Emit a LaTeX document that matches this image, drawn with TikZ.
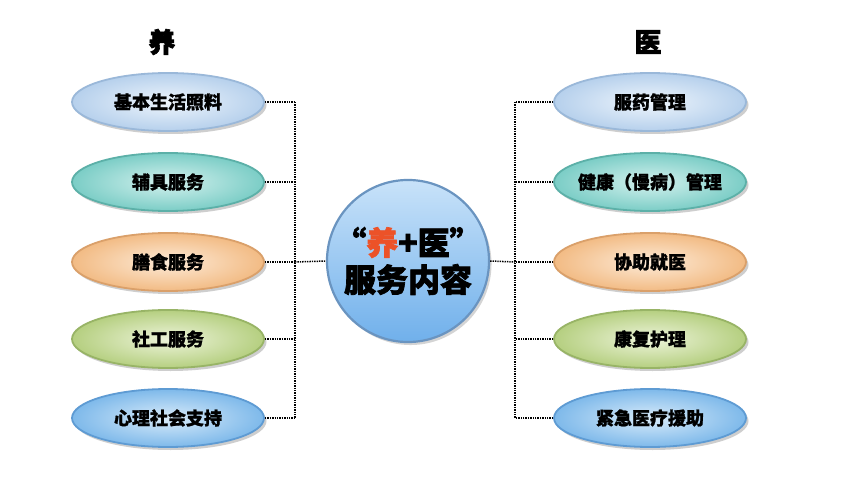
\documentclass[tikz,border=0pt]{standalone}
\usepackage{fontspec}
\newfontfamily\cjk{Noto Sans CJK SC}[BoldFeatures={FakeBold=1.2}]
\newfontfamily\cjkh{Noto Sans CJK SC}[BoldFeatures={FakeBold=2.2}]
\usetikzlibrary{shapes.geometric,shadows}
\definecolor{ovA}{HTML}{B6D0EC}\definecolor{ovAi}{HTML}{EEF5FC}\definecolor{ovAd}{HTML}{9AB8D9}
\definecolor{ovB}{HTML}{7BCDC6}\definecolor{ovBi}{HTML}{D4F1EE}\definecolor{ovBd}{HTML}{5CB0A8}
\definecolor{ovC}{HTML}{F2BB84}\definecolor{ovCi}{HTML}{FDEBD8}\definecolor{ovCd}{HTML}{DAA06A}
\definecolor{ovD}{HTML}{B5CF80}\definecolor{ovDi}{HTML}{EDF4DA}\definecolor{ovDd}{HTML}{98B466}
\definecolor{ovE}{HTML}{7EB9EA}\definecolor{ovEi}{HTML}{D8EBFA}\definecolor{ovEd}{HTML}{5E9BD3}
\definecolor{cirT}{HTML}{C8E2F9}\definecolor{cirB}{HTML}{70B0EB}\definecolor{cirD}{HTML}{6A94C0}
\definecolor{redY}{HTML}{EC5228}
\begin{document}
\begin{tikzpicture}[x=1pt,y=-1pt,
  oval/.style={ellipse, minimum width=192pt, minimum height=58pt, inner sep=0pt, line width=1.8pt,
    font=\cjk\bfseries\fontsize{18}{18}\selectfont, text=black,
    drop shadow={shadow xshift=2.5pt, shadow yshift=-3pt, opacity=0.35, fill=black!55}},
  hueA/.style={draw=ovAd, inner color=ovAi, outer color=ovA},
  hueB/.style={draw=ovBd, inner color=ovBi, outer color=ovB},
  hueC/.style={draw=ovCd, inner color=ovCi, outer color=ovC},
  hueD/.style={draw=ovDd, inner color=ovDi, outer color=ovD},
  hueE/.style={draw=ovEd, inner color=ovEi, outer color=ovE},
  dots/.style={draw=black, line width=1.5pt, dash pattern=on 1.4pt off 1pt},
  head/.style={font=\cjkh\bfseries\fontsize{27}{27}\selectfont, text=black}
]
\useasboundingbox[fill=white] (0,0) rectangle (856,481);

\node[head] (hL) at (162,42) {养};
\node[head] (hR) at (648,42) {医};

\node[oval,hueA] (l1) at (168,102) {基本生活照料};
\node[oval,hueB] (l2) at (168,182) {辅具服务};
\node[oval,hueC] (l3) at (168,262) {膳食服务};
\node[oval,hueD] (l4) at (168,339) {社工服务};
\node[oval,hueE] (l5) at (168,418) {心理社会支持};

\node[oval,hueA] (r1) at (650,102) {服药管理};
\node[oval,hueB] (r2) at (650,182) {\makebox[0pt]{健康（慢病）管理}};
\node[oval,hueC] (r3) at (650,262) {协助就医};
\node[oval,hueD] (r4) at (650,339) {康复护理};
\node[oval,hueE] (r5) at (650,418) {紧急医疗援助};

\node[circle, minimum size=162pt, inner sep=0pt, draw=cirD, line width=2.2pt,
      top color=cirT, bottom color=cirB,
      drop shadow={shadow xshift=2.5pt, shadow yshift=-3pt, opacity=0.3, fill=black!55},
      align=center, font=\cjkh\bfseries\fontsize{32}{37}\selectfont, text=black]
  (c) at (408,261) {“\textcolor{redY}{养}+医”\\服务内容};

\coordinate (jl) at (295,262);
\coordinate (jr) at (515,262);

\foreach \n in {l1,l2,l3,l4,l5} \draw[dots] (\n.east) -- (\n.east -| jl);
\draw[dots] (l1.east -| jl) -- (l5.east -| jl);
\draw[dots] (jl) -- (c.west);

\foreach \n in {r1,r2,r3,r4,r5} \draw[dots] (\n.west) -- (\n.west -| jr);
\draw[dots] (r1.west -| jr) -- (r5.west -| jr);
\draw[dots] (c.east) -- (jr);
\end{tikzpicture}
\end{document}
